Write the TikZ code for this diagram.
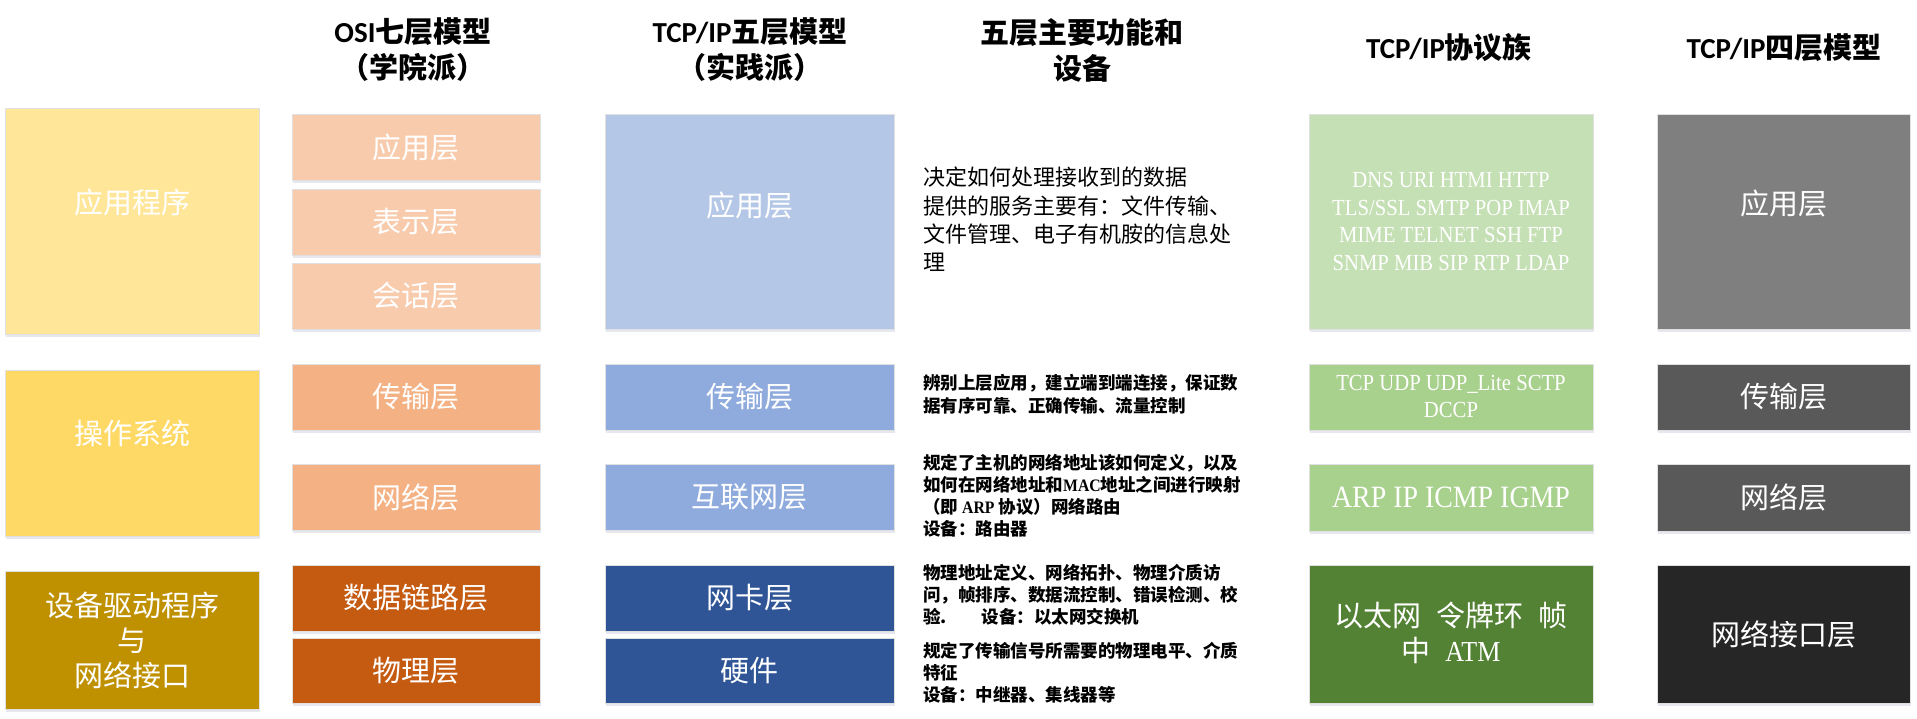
\documentclass[tikz,border=0pt]{standalone}
\usepackage{fontspec}
\usetikzlibrary{shadows}
\newfontfamily\hei{Noto Sans CJK SC}
\newfontfamily\calf{Carlito}
\newfontfamily\song{Noto Sans CJK SC}
\newfontfamily\lat{Liberation Serif}[FakeStretch=0.9]
\definecolor{yA}{HTML}{FFE699}
\definecolor{yB}{HTML}{FFD966}
\definecolor{yC}{HTML}{BF9000}
\definecolor{oA}{HTML}{F8CBAD}
\definecolor{oB}{HTML}{F4B183}
\definecolor{oC}{HTML}{C55A11}
\definecolor{bA}{HTML}{B4C7E7}
\definecolor{bB}{HTML}{8FAADC}
\definecolor{bC}{HTML}{2F5597}
\definecolor{gA}{HTML}{C5E0B4}
\definecolor{gB}{HTML}{A9D18E}
\definecolor{gC}{HTML}{548235}
\definecolor{kA}{HTML}{7F7F7F}
\definecolor{kB}{HTML}{595959}
\definecolor{kC}{HTML}{262626}
\tikzset{
  box/.style={draw=black!12, line width=0.8pt, inner sep=0pt, outer sep=0pt, anchor=north west,
    text=white, font=\song\fontsize{29}{34}\selectfont, align=center,
    drop shadow={shadow xshift=0.5pt, shadow yshift=-3pt, opacity=0.15, fill=blue!25!gray}},
  lbl/.style={text=white, font=\song\fontsize{29}{35}\selectfont, align=center, inner sep=0pt},
  hdr/.style={font=\hei\bfseries\fontsize{29}{36}\selectfont, align=center, inner sep=0pt},
  desc/.style={anchor=north west, align=left, inner sep=0pt, text=black},
  proto/.style={text=white, align=center, inner sep=0pt},
}
\begin{document}
\begin{tikzpicture}[x=1pt,y=-1pt]
\useasboundingbox (0,0) rectangle (1917,719);
\fill[white] (0,0) rectangle (1917,719);

% headers
\node[hdr] (h1) at (413,50) {{\calf OSI}七层模型\\（学院派）};
\node[hdr] (h2) at (750,50) {{\calf TCP/IP}五层模型\\（实践派）};
\node[hdr] (h3) at (1082,50) {五层主要功能和\\设备};
\node[hdr] (h4) at (1449,48) {{\calf TCP/IP}协议族};
\node[hdr] (h5) at (1784,48) {{\calf TCP/IP}四层模型};

% column 1
\node[box, fill=yA, minimum width=254pt, minimum height=226pt] (c1a) at (5,108) {};
\node[lbl] (c1aT) at (132,202) {应用程序};
\node[box, fill=yB, minimum width=254pt, minimum height=166pt] (c1b) at (5,370) {};
\node[lbl] (c1bT) at (132,433) {操作系统};
\node[box, fill=yC, minimum width=254pt, minimum height=138pt] (c1c) at (5,571) {};
\node[lbl] (c1cT) at (132,640) {设备驱动程序\\与\\网络接口};

% column 2 (OSI)
\node[box, fill=oA, minimum width=248pt, minimum height=66pt] (o1) at (292,114) {应用层};
\node[box, fill=oA, minimum width=248pt, minimum height=66pt] (o2) at (292,189) {表示层};
\node[box, fill=oA, minimum width=248pt, minimum height=66pt] (o3) at (292,263) {会话层};
\node[box, fill=oB, minimum width=248pt, minimum height=66pt] (o4) at (292,364) {传输层};
\node[box, fill=oB, minimum width=248pt, minimum height=66pt] (o5) at (292,464) {网络层};
\node[box, fill=oC, minimum width=248pt, minimum height=66pt] (o6) at (292,565) {数据链路层};
\node[box, fill=oC, minimum width=248pt, minimum height=65pt] (o7) at (292,638) {物理层};

% column 3 (TCP/IP five)
\node[box, fill=bA, minimum width=289pt, minimum height=215pt] (t1) at (605,114) {};
\node[lbl] (t1T) at (749.5,205) {应用层};
\node[box, fill=bB, minimum width=289pt, minimum height=66pt] (t2) at (605,364) {传输层};
\node[box, fill=bB, minimum width=289pt, minimum height=66pt] (t3) at (605,464) {互联网层};
\node[box, fill=bC, minimum width=289pt, minimum height=66pt] (t4) at (605,565) {网卡层};
\node[box, fill=bC, minimum width=289pt, minimum height=65pt] (t5) at (605,638) {硬件};

% column 4 (descriptions)
\node[desc, font=\song\fontsize{22}{28.3}\selectfont] (d1) at (923,167)
  {决定如何处理接收到的数据\\提供的服务主要有：文件传输、\\文件管理、电子有机胺的信息处\\理};
\node[desc, font=\song\bfseries\fontsize{17.5}{23.5}\selectfont] (d2) at (923,374)
  {辨别上层应用，建立端到端连接，保证数\\据有序可靠、正确传输、流量控制};
\node[desc, font=\song\bfseries\fontsize{17.5}{22}\selectfont] (d3) at (923,454)
  {规定了主机的网络地址该如何定义，以及\\如何在网络地址和{\lat MAC}地址之间进行映射\\（即 {\lat ARP} 协议）网络路由\\设备：路由器};
\node[desc, font=\song\bfseries\fontsize{17.5}{22}\selectfont] (d4) at (923,564)
  {物理地址定义、网络拓扑、物理介质访\\问，帧排序、数据流控制、错误检测、校\\验.\hspace{2em}设备：以太网交换机};
\node[desc, font=\song\bfseries\fontsize{17.5}{22}\selectfont] (d5) at (923,642)
  {规定了传输信号所需要的物理电平、介质\\特征\\设备：中继器、集线器等};

% column 5 (protocols)
\node[box, fill=gA, minimum width=284pt, minimum height=215pt] (p1) at (1309,114) {};
\node[proto, font=\lat\fontsize{23}{27.7}\selectfont] (p1T) at (1451,221.5)
  {DNS URI HTMI HTTP\\TLS/SSL SMTP POP IMAP\\MIME TELNET SSH FTP\\SNMP MIB SIP RTP LDAP};
\node[box, fill=gB, minimum width=284pt, minimum height=66pt] (p2) at (1309,364) {};
\node[proto, font=\lat\fontsize{23}{27}\selectfont] (p2T) at (1451,396.5)
  {TCP UDP UDP\_Lite SCTP\\DCCP};
\node[box, fill=gB, minimum width=284pt, minimum height=67pt] (p3) at (1309,464) {};
\node[proto, font=\lat\fontsize{31}{36}\selectfont] (p3T) at (1451,497) {ARP IP ICMP IGMP};
\node[box, fill=gC, minimum width=284pt, minimum height=138pt] (p4) at (1309,565) {};
\node[lbl] (p4T) at (1451,633)
  {以太网\hspace{15pt}令牌环\hspace{15pt}帧\\中\hspace{15pt}{\lat ATM}};

% column 6 (TCP/IP four)
\node[box, fill=kA, minimum width=253pt, minimum height=215pt] (f1) at (1657,114) {};
\node[lbl] (f1T) at (1783.5,203) {应用层};
\node[box, fill=kB, minimum width=253pt, minimum height=66pt] (f2) at (1657,364) {传输层};
\node[box, fill=kB, minimum width=253pt, minimum height=67pt] (f3) at (1657,464) {网络层};
\node[box, fill=kC, minimum width=253pt, minimum height=138pt] (f4) at (1657,565) {网络接口层};
\end{tikzpicture}
\end{document}
